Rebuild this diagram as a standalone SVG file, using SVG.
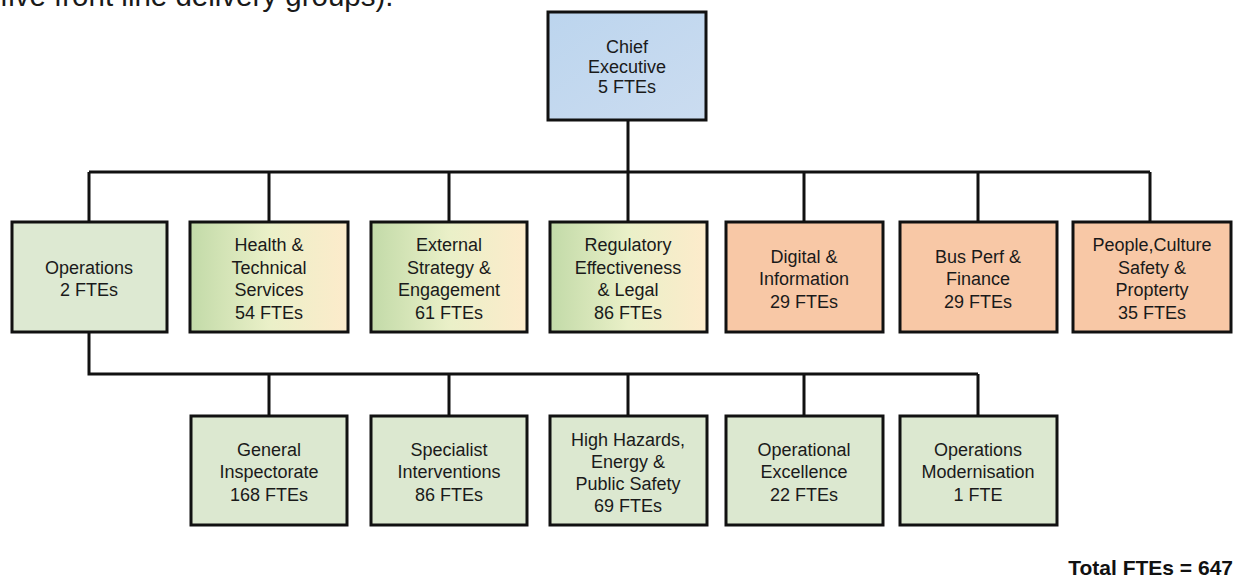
<svg xmlns="http://www.w3.org/2000/svg" width="1234" height="579" viewBox="0 0 1234 579">
<style>
.box{stroke:#111;stroke-width:3}
.t{font-family:"Liberation Sans",Arial,sans-serif;font-size:18px;fill:#1a1a1a;text-anchor:middle}
.c{fill:none;stroke:#111;stroke-width:3}
</style>
<defs>
<linearGradient id="gy" x1="0" y1="0" x2="1" y2="0">
<stop offset="0" stop-color="#c2daa8"/>
<stop offset="0.5" stop-color="#eaf0c8"/>
<stop offset="1" stop-color="#fdebcb"/>
</linearGradient>
<linearGradient id="gb" x1="0" y1="0" x2="1" y2="1">
<stop offset="0" stop-color="#bcd5ee"/>
<stop offset="1" stop-color="#cbdcf0"/>
</linearGradient>
</defs>
<rect width="1234" height="579" fill="#ffffff"/>
<text x="0" y="6" style="font-family:'Liberation Sans',Arial,sans-serif;font-size:29.5px;fill:#1a1a1a">five front line delivery groups).</text>

<g id="connectors">
<path class="c" d="M628 120V172M89 172H1150M89 172V222M269 172V222M449 172V222M628 172V222M804 172V222M978 172V222M1150 172V222"/>
<path class="c" d="M89 332V374H978M269 374V416M449 374V416M628 374V416M804 374V416M978 374V416"/>
</g>

<g id="chief"><rect class="box" x="548" y="12" width="158" height="108" fill="url(#gb)"/>
<text class="t" x="627" y="53">Chief</text><text class="t" x="627" y="73">Executive</text><text class="t" x="627" y="93">5 FTEs</text></g>

<g id="operations"><rect class="box" x="12" y="222" width="155" height="110" fill="#dde9d2"/>
<text class="t" x="89" y="274">Operations</text><text class="t" x="89" y="296">2 FTEs</text></g>

<g id="health"><rect class="box" x="190" y="222" width="158" height="110" fill="url(#gy)"/>
<text class="t" x="269" y="251">Health &amp;</text><text class="t" x="269" y="274">Technical</text><text class="t" x="269" y="296">Services</text><text class="t" x="269" y="319">54 FTEs</text></g>

<g id="external"><rect class="box" x="371" y="222" width="156" height="110" fill="url(#gy)"/>
<text class="t" x="449" y="251">External</text><text class="t" x="449" y="274">Strategy &amp;</text><text class="t" x="449" y="296">Engagement</text><text class="t" x="449" y="319">61 FTEs</text></g>

<g id="regulatory"><rect class="box" x="550" y="222" width="157" height="110" fill="url(#gy)"/>
<text class="t" x="628" y="251">Regulatory</text><text class="t" x="628" y="274">Effectiveness</text><text class="t" x="628" y="296">&amp; Legal</text><text class="t" x="628" y="319">86 FTEs</text></g>

<g id="digital"><rect class="box" x="726" y="222" width="157" height="110" fill="#f8c8a6"/>
<text class="t" x="804" y="263">Digital &amp;</text><text class="t" x="804" y="285">Information</text><text class="t" x="804" y="308">29 FTEs</text></g>

<g id="busperf"><rect class="box" x="900" y="222" width="157" height="110" fill="#f8c8a6"/>
<text class="t" x="978" y="263">Bus Perf &amp;</text><text class="t" x="978" y="285">Finance</text><text class="t" x="978" y="308">29 FTEs</text></g>

<g id="people"><rect class="box" x="1073" y="222" width="158" height="110" fill="#f8c8a6"/>
<text class="t" x="1152" y="251">People,Culture</text><text class="t" x="1152" y="274">Safety &amp;</text><text class="t" x="1152" y="296">Propterty</text><text class="t" x="1152" y="319">35 FTEs</text></g>

<g id="general"><rect class="box" x="191" y="416" width="156" height="109" fill="#dce8d0"/>
<text class="t" x="269" y="456">General</text><text class="t" x="269" y="478">Inspectorate</text><text class="t" x="269" y="501">168 FTEs</text></g>

<g id="specialist"><rect class="box" x="371" y="416" width="156" height="109" fill="#dce8d0"/>
<text class="t" x="449" y="456">Specialist</text><text class="t" x="449" y="478">Interventions</text><text class="t" x="449" y="501">86 FTEs</text></g>

<g id="highhazards"><rect class="box" x="550" y="416" width="157" height="109" fill="#dce8d0"/>
<text class="t" x="628" y="446">High Hazards,</text><text class="t" x="628" y="468">Energy &amp;</text><text class="t" x="628" y="490">Public Safety</text><text class="t" x="628" y="512">69 FTEs</text></g>

<g id="opexcellence"><rect class="box" x="726" y="416" width="157" height="109" fill="#dce8d0"/>
<text class="t" x="804" y="456">Operational</text><text class="t" x="804" y="478">Excellence</text><text class="t" x="804" y="501">22 FTEs</text></g>

<g id="opmodern"><rect class="box" x="900" y="416" width="157" height="109" fill="#dce8d0"/>
<text class="t" x="978" y="456">Operations</text><text class="t" x="978" y="478">Modernisation</text><text class="t" x="978" y="501">1 FTE</text></g>

<text x="1233" y="575" style="font-family:'Liberation Sans',Arial,sans-serif;font-size:21px;font-weight:bold;fill:#111;text-anchor:end">Total FTEs = 647</text>
</svg>
